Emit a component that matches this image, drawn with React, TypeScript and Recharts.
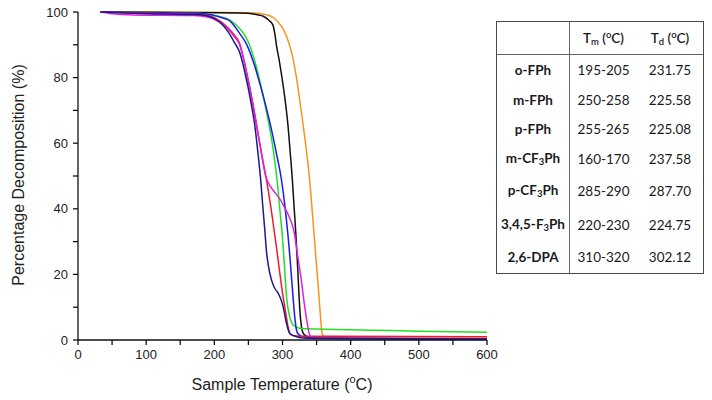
import React from 'react';
import { LineChart, Line, XAxis, YAxis } from 'recharts';

// ---- data ----
const xTicks = [0, 50, 100, 150, 200, 250, 300, 350, 400, 450, 500, 550, 600];
const yTicks = [0, 10, 20, 30, 40, 50, 60, 70, 80, 90, 100];

const orangeCurve: [number, number][] = [
  [33, 100], [100, 100], [200, 99.9], [250, 99.8], [265, 99.6], [275, 99.2], [286, 98.4], [294, 96.8],
  [301, 94.8], [307, 92], [313, 88], [318, 83], [322, 78], [326, 72], [330, 66], [335, 58], [339.5, 49.5],
  [342, 43.5], [346, 33], [351, 20], [354.6, 10.3], [357, 4], [358.5, 1.6], [362, 1.1], [600, 1.0],
];
const blackCurve: [number, number][] = [
  [33, 100], [100, 99.9], [200, 99.8], [240, 99.7], [255, 99.5], [265, 99.1], [271, 98.8], [280, 97.5],
  [286, 96], [289, 93], [291, 90], [295, 85.5], [298.5, 81], [302, 76], [305.7, 70], [308, 65.5], [311, 58],
  [314.5, 48.8], [317, 40.5], [319.4, 33], [321, 27], [322.5, 21], [324.3, 13.3], [325.5, 9], [327.7, 4.2],
  [330, 2.2], [335, 1.2], [345, 0.6], [600, 0.3],
];
const greenCurve: [number, number][] = [
  [33, 100], [100, 99.8], [170, 99.6], [190, 99.3], [200, 99], [210, 98.5], [220, 97.8], [228, 96.8],
  [237, 95], [245, 92.8], [252, 89.8], [262, 83], [271, 75], [279, 67], [285, 60], [289, 54], [292, 48.8],
  [296, 40], [300, 31], [303, 22], [306, 13], [310, 7.5], [314, 5], [318, 4.2], [325, 3.6], [335, 3.4],
  [430, 3.0], [500, 2.7], [600, 2.4],
];
const blueCurve: [number, number][] = [
  [33, 100], [100, 99.8], [170, 99.6], [190, 99.3], [200, 98.9], [210, 98.3], [222.7, 97.3], [237, 93.5],
  [247, 90.3], [257, 85], [267, 78], [276, 71], [284, 64], [291, 57], [298.5, 48.8], [304, 40], [308, 32],
  [311, 25], [315.5, 13], [318, 7], [320.4, 3.2], [323, 1.8], [327.7, 1.2], [340, 0.6], [600, 0.4],
];
const redCurve: [number, number][] = [
  [33, 100], [100, 99.6], [170, 99.3], [190, 98.9], [200, 98.3], [210, 97], [220, 95.2], [228, 93.3],
  [237, 90.5], [247, 82], [257, 71.5], [262, 65.5], [270, 56], [278, 47], [285, 37.5], [291, 28.5],
  [296, 20.5], [300.8, 13.3], [305, 8], [308, 4.2], [311, 2], [315, 1.4], [325, 1.15], [600, 1.0],
];
const magentaCurve: [number, number][] = [
  [33, 100], [50, 99.5], [80, 99.1], [170, 98.9], [190, 98.5], [200, 97.8], [210, 96.6], [220, 94.8],
  [228, 92.8], [237, 90.1], [247, 81.8], [257, 71.3], [262, 65.3], [270, 55.8], [275, 50.3], [279, 48],
  [287, 45.5], [296, 43], [304, 40], [311, 37], [317, 33], [322, 26], [327.5, 18.4], [332, 11],
  [336, 5.5], [340, 1.5], [345, 0.7], [400, 0.5], [600, 0.4],
];
const navyCurve: [number, number][] = [
  [33, 100], [100, 99.5], [170, 99.2], [190, 98.8], [200, 98], [210, 96.5], [220, 94], [230, 90.5],
  [237, 87.8], [244.7, 81.7], [254.5, 71.6], [259.3, 65.5], [264, 57], [268, 48.8], [271, 41], [274, 33.6],
  [276.5, 27], [279, 23], [283.7, 18.4], [288, 16], [293.5, 14.3], [297.5, 12.5], [300.8, 10.3],
  [305.7, 5.2], [310.6, 2], [318, 1.2], [330, 0.6], [400, 0.4], [600, 0.3],
];

const curves = [orangeCurve, blackCurve, greenCurve, blueCurve, redCurve, magentaCurve, navyCurve];
const curveColors = ['#F7941D', '#111111', '#22E022', '#1A1AF0', '#F01A2A', '#E020E0', '#1A1A90'];

const compounds = ['o-FPh', 'm-FPh', 'p-FPh', 'm-CF3Ph', 'p-CF3Ph', '3,4,5-F3Ph', '2,6-DPA'];
const meltRanges = ['195-205', '250-258', '255-265', '160-170', '285-290', '220-230', '310-320'];
const decompTemps = ['231.75', '225.58', '225.08', '237.58', '287.70', '224.75', '302.12'];

// ---- helpers ----
const toRows = (pts: [number, number][]) => pts.map(([t, v]) => ({ t, v }));

const renderName = (name: string) => {
  const m = name.match(/^(.*F)(\d)(Ph)$/);
  if (!m) return name;
  return (
    <>
      {m[1]}
      <sub style={{ fontSize: '0.7em', verticalAlign: '-0.25em' }}>{m[2]}</sub>
      {m[3]}
    </>
  );
};

const axisFont = { fontFamily: '"Liberation Sans", Arial, sans-serif', fontSize: 13, fill: '#222' };

const XTitle = () => (
  <text
    x={282}
    y={390}
    textAnchor="middle"
    style={{ fontFamily: '"Liberation Sans", Arial, sans-serif', fontSize: 16, fill: '#222' }}
  >
    Sample Temperature (<tspan dy={-7} fontSize={11}>o</tspan>
    <tspan dy={7}>C)</tspan>
  </text>
);

const YTitle = () => (
  <text
    x={18}
    y={175}
    textAnchor="middle"
    dominantBaseline="central"
    transform="rotate(-90 18 175)"
    style={{ fontFamily: '"Liberation Sans", Arial, sans-serif', fontSize: 16, fill: '#222' }}
  >
    Percentage Decomposition (%)
  </text>
);

const cellBase: React.CSSProperties = {
  display: 'flex',
  alignItems: 'center',
  justifyContent: 'center',
  boxSizing: 'border-box',
};

export default function App() {
  return (
    <div style={{ position: 'absolute', left: 0, top: 0, width: 712, height: 400, background: '#fff' }}>
      <LineChart
        width={712}
        height={400}
        margin={{ top: 12, right: 225, bottom: 0, left: 0 }}
      >
        <XAxis
          type="number"
          dataKey="t"
          domain={[0, 600]}
          ticks={xTicks}
          interval={0}
          allowDataOverflow
          tickFormatter={(v: number) => (v % 100 === 0 ? String(v) : '')}
          tick={axisFont}
          tickSize={5}
          tickMargin={5}
          height={60}
          stroke="#111"
          axisLine={{ stroke: '#111', strokeWidth: 1.3 }}
          tickLine={{ stroke: '#111', strokeWidth: 1.3 }}
          label={<XTitle />}
        />
        <YAxis
          type="number"
          domain={[0, 100]}
          ticks={yTicks}
          interval={0}
          tickFormatter={(v: number) => (v % 20 === 0 ? String(v) : '')}
          tick={axisFont}
          tickSize={5}
          tickMargin={5}
          width={78}
          stroke="#111"
          axisLine={{ stroke: '#111', strokeWidth: 1.3 }}
          tickLine={{ stroke: '#111', strokeWidth: 1.3 }}
          label={<YTitle />}
        />
        {curves.map((c, i) => (
          <Line
            key={i}
            data={toRows(c)}
            dataKey="v"
            type="monotone"
            stroke={curveColors[i]}
            strokeWidth={1.5}
            dot={false}
            activeDot={false}
            isAnimationActive={false}
          />
        ))}
      </LineChart>

      <div
        style={{
          position: 'absolute',
          left: 496,
          top: 21,
          width: 208,
          height: 253,
          boxSizing: 'border-box',
          border: '1.5px solid #4a4a4a',
          display: 'grid',
          gridTemplateColumns: '73px 67px 1fr',
          gridTemplateRows: '33px 30px 29px 29px 31px 34px 33px 1fr',
          fontFamily: 'Lato, "Open Sans", sans-serif',
          fontSize: 13.5,
          color: '#1a1a1a',
          background: '#fff',
        }}
      >
        <div style={{ ...cellBase, borderRight: '1px solid #666', borderBottom: '1px solid #666' }} />
        <div style={{ ...cellBase, borderBottom: '1px solid #666', fontWeight: 600 }}>
          <span>
            T<sub style={{ fontSize: '0.7em', verticalAlign: '-0.25em' }}>m</sub> (
            <sup style={{ fontSize: '0.7em', verticalAlign: '0.5em' }}>o</sup>C)
          </span>
        </div>
        <div style={{ ...cellBase, borderBottom: '1px solid #666', fontWeight: 600 }}>
          <span>
            T<sub style={{ fontSize: '0.7em', verticalAlign: '-0.25em' }}>d</sub> (
            <sup style={{ fontSize: '0.7em', verticalAlign: '0.5em' }}>o</sup>C)
          </span>
        </div>
        {compounds.map((name, i) => (
          <React.Fragment key={name}>
            <div style={{ ...cellBase, borderRight: '1px solid #666', fontWeight: 700 }}>
              <span>{renderName(name)}</span>
            </div>
            <div style={cellBase}>{meltRanges[i]}</div>
            <div style={cellBase}>{decompTemps[i]}</div>
          </React.Fragment>
        ))}
      </div>
    </div>
  );
}
